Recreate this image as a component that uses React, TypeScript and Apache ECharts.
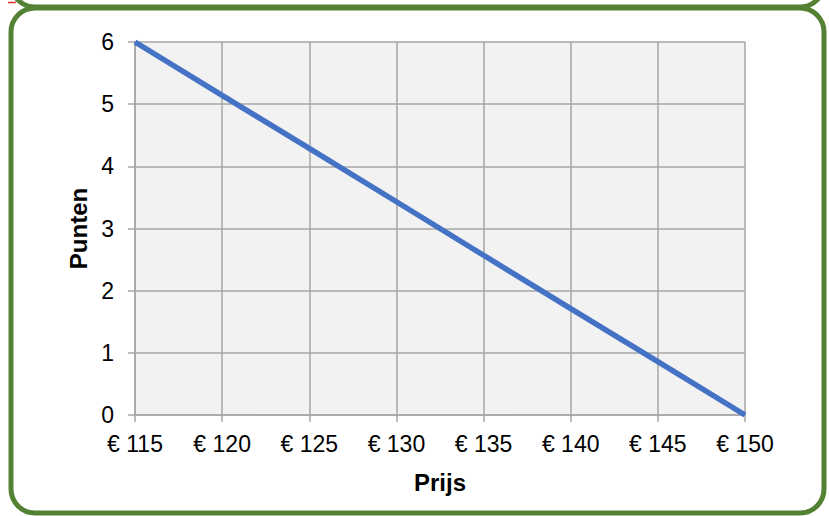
import React, { useEffect, useRef } from "react";
import * as echarts from "echarts";

const prices = [115, 120, 125, 130, 135, 140, 145, 150];
const points = [6, 5.14, 4.29, 3.43, 2.57, 1.71, 0.86, 0];
const xName = "Prijs";
const yName = "Punten";

export default function App() {
  const ref = useRef<HTMLDivElement>(null);
  useEffect(() => {
    if (!ref.current) return;
    const chart = echarts.init(ref.current, null, { renderer: "svg" });
    const green = "#548235";
    const gray = "#a6a6a6";
    const ff = "Liberation Sans, Arial, sans-serif";
    chart.setOption({
      animation: false,
      backgroundColor: "#ffffff",
      textStyle: { fontFamily: ff },
      grid: {
        left: 135,
        right: 84,
        top: 42,
        bottom: 101,
        show: true,
        backgroundColor: "#f2f2f2",
        borderWidth: 0,
      },
      xAxis: {
        type: "value",
        min: 115,
        max: 150,
        interval: 5,
        name: xName,
        nameLocation: "middle",
        nameGap: 55,
        nameTextStyle: { fontSize: 24, fontWeight: "bold", color: "#000", fontFamily: ff },
        axisLine: { show: true, lineStyle: { color: gray, width: 1.5 } },
        axisTick: { show: true, length: 7, lineStyle: { color: gray, width: 1.5 } },
        axisLabel: {
          margin: 17,
          fontSize: 23,
          color: "#000",
          fontFamily: ff,
          formatter: (v: number) => "€ " + v,
        },
        splitLine: { show: true, lineStyle: { color: gray, width: 1.5 } },
      },
      yAxis: {
        type: "value",
        min: 0,
        max: 6,
        interval: 1,
        name: yName,
        nameLocation: "middle",
        nameGap: 45,
        nameRotate: 90,
        nameTextStyle: { fontSize: 24, fontWeight: "bold", color: "#000", fontFamily: ff },
        axisLine: { show: true, lineStyle: { color: gray, width: 1.5 } },
        axisTick: { show: true, length: 7, lineStyle: { color: gray, width: 1.5 } },
        axisLabel: { margin: 21, fontSize: 23, color: "#000", fontFamily: ff },
        splitLine: { show: true, lineStyle: { color: gray, width: 1.5 } },
      },
      series: [
        {
          type: "line",
          data: prices.map((p, i) => [p, points[i]]),
          showSymbol: false,
          symbol: "none",
          lineStyle: { color: "#4472c4", width: 5.5, cap: "butt" },
          clip: false,
        },
      ],
      graphic: [
        {
          type: "rect",
          shape: { x: 11, y: -500, width: 813, height: 507, r: 24 },
          style: { fill: "none", stroke: green, lineWidth: 5 },
          z: 10,
        },
        {
          type: "rect",
          shape: { x: 11, y: 8, width: 813, height: 505, r: 24 },
          style: { fill: "none", stroke: green, lineWidth: 5 },
          z: 10,
        },
        {
          type: "line",
          shape: { x1: 8, y1: 2.5, x2: 16, y2: 2.5 },
          style: { stroke: "#e03030", lineWidth: 1.5 },
          z: 11,
        },
      ],
    });
    return () => chart.dispose();
  }, []);
  return (
    <div
      ref={ref}
      style={{ position: "fixed", left: 0, top: 0, width: 829, height: 516 }}
    />
  );
}
